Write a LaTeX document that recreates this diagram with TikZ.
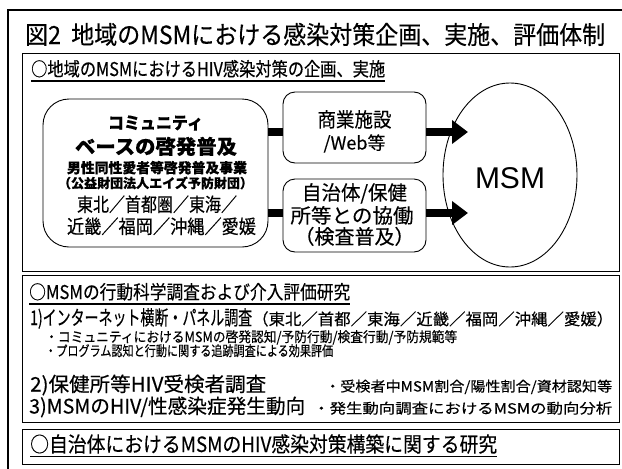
\documentclass[tikz,border=0pt]{standalone}
\usepackage{fontspec}
\setmainfont{Noto Sans CJK JP}[FakeBold=0.3]
\newfontfamily\latinsans{Liberation Sans}
\usetikzlibrary{arrows.meta}
\newcommand{\fw}[2]{\resizebox{#1pt}{\height}{#2}}
\newcommand{\fsz}[1]{\fontsize{#1}{#1}\selectfont}
\begin{document}
\begin{tikzpicture}[x=1pt,y=-1pt,
  txt/.style={inner sep=0pt,anchor=base west,text=black},
  ctxt/.style={inner sep=0pt,anchor=base,text=black},
  panel/.style={draw=black,line width=0.9pt},
  rbox/.style={draw=black,line width=0.9pt,rounded corners=12pt},
  uline/.style={line width=1.1pt},
  bar/.style={line width=8pt},
  fat/.style={line width=8pt,-{Triangle[length=16pt,width=23pt]}}]
\useasboundingbox (0,0) rectangle (622,469);
\fill[white] (0,0) rectangle (622,469);
% outer frame
\draw[line width=2pt] (8,469) -- (8,10) -- (622,10);
% title
\node[txt] (title) at (25,44) {\fw{580}{\fsz{25}図2\ \ 地域のMSMにおける感染対策企画、実施、評価体制}};
% panel 1
\draw[panel] (22,53) rectangle (619,271);
\node[txt] (h1) at (31,76) {\fw{354}{\fsz{19}○地域のMSMにおけるHIV感染対策の企画、実施}};
\draw[uline] ([yshift=-5pt]h1.base west) -- ([yshift=-5pt]h1.base east);
% community box
\draw[rbox,rounded corners=26pt] (43,99) rectangle (268,247);
\coordinate (commE) at (268,173);
\node[ctxt] (c1) at (155.5,129) {\fw{95}{\fsz{17}\bfseries コミュニティ}};
\node[ctxt] (c2) at (156,154) {\fw{162}{\fsz{20}\bfseries ベースの啓発普及}};
\node[ctxt] (c3) at (157,173) {\fw{180}{\fsz{14}\bfseries 男性同性愛者等啓発普及事業}};
\node[ctxt] (c4) at (155.5,188) {\fw{195}{\fsz{13}\bfseries （公益財団法人エイズ予防財団）}};
\node[ctxt] (c5) at (157,211.5) {\fw{160}{\fsz{19}東北／首都圏／東海／}};
\node[ctxt] (c6) at (161.5,233.5) {\fw{189}{\fsz{19}近畿／福岡／沖縄／愛媛}};
% middle boxes
\node[rbox,minimum width=143pt,minimum height=71pt,inner sep=0pt] (shop) at (354.5,127.5) {};
\node[rbox,minimum width=143pt,minimum height=73pt,inner sep=0pt] (local) at (354.5,215.5) {};
\node[ctxt] (s1) at (354.5,127) {\fw{74}{\fsz{20}商業施設}};
\node[ctxt] (s2) at (354.5,149.5) {\fsz{18}/Web等};
\node[ctxt] (l1) at (354.5,200) {\fw{105}{\fsz{20}自治体/保健}};
\node[ctxt] (l2) at (352,223) {\fw{123}{\fsz{20}所等との協働}};
\node[ctxt] (l3) at (354.5,244) {\fw{120}{\fsz{20}（検査普及）}};
% MSM ellipse
\draw[line width=0.9pt] (510,175) ellipse [x radius=67, y radius=92];
\node[inner sep=0pt] (msm) at (510,178) {\latinsans\fsz{30}MSM};
% connectors
\coordinate (r1) at (0,132);
\coordinate (r2) at (0,213);
\coordinate (tip1) at (468,132);
\coordinate (tip2) at (468,213);
\draw[bar] (commE |- r1) -- (shop.west |- r1);
\draw[bar] (commE |- r2) -- (local.west |- r2);
\draw[fat] (shop.east |- r1) -- (tip1);
\draw[fat] (local.east |- r2) -- (tip2);
% panel 2
\draw[panel] (22,275) rectangle (619,422);
\node[txt] (h2) at (29,299) {\fw{321}{\fsz{19}○MSMの行動科学調査および介入評価研究}};
\draw[uline] ([yshift=-5pt]h2.base west) -- ([yshift=-5pt]h2.base east);
\node[txt] (p1) at (30,325) {\fw{222}{\fsz{20}1)インターネット横断・パネル調査}};
\node[txt] (p1b) at (252,325) {\fw{361}{\fsz{16}（東北／首都／東海／近畿／福岡／沖縄／愛媛）}};
\node[txt] (b1) at (45,342) {\fw{412}{\fsz{14}・コミュニティにおけるMSMの啓発認知/予防行動/検査行動/予防規範等}};
\node[txt] (b2) at (45,356) {\fw{288}{\fsz{14}・プログラム認知と行動に関する追跡調査による効果評価}};
\node[txt] (p2) at (30,391.5) {\fw{236}{\fsz{20}2)保健所等HIV受検者調査}};
\node[txt] (p2b) at (325,391.5) {\fw{287}{\fsz{14}・受検者中MSM割合/陽性割合/資材認知等}};
\node[txt] (p3) at (29,413.5) {\fw{276}{\fsz{20}3)MSMのHIV/性感染症発生動向}};
\node[txt] (p3b) at (313,413.5) {\fw{299}{\fsz{14}・発生動向調査におけるMSMの動向分析}};
% panel 3
\draw[panel] (22,429) rectangle (619,464);
\node[txt] (h3) at (30,452) {\fw{467}{\fsz{21}○自治体におけるMSMのHIV感染対策構築に関する研究}};
\draw[uline] ([yshift=-4.5pt]h3.base west) -- ([yshift=-4.5pt]h3.base east);
\end{tikzpicture}
\end{document}
